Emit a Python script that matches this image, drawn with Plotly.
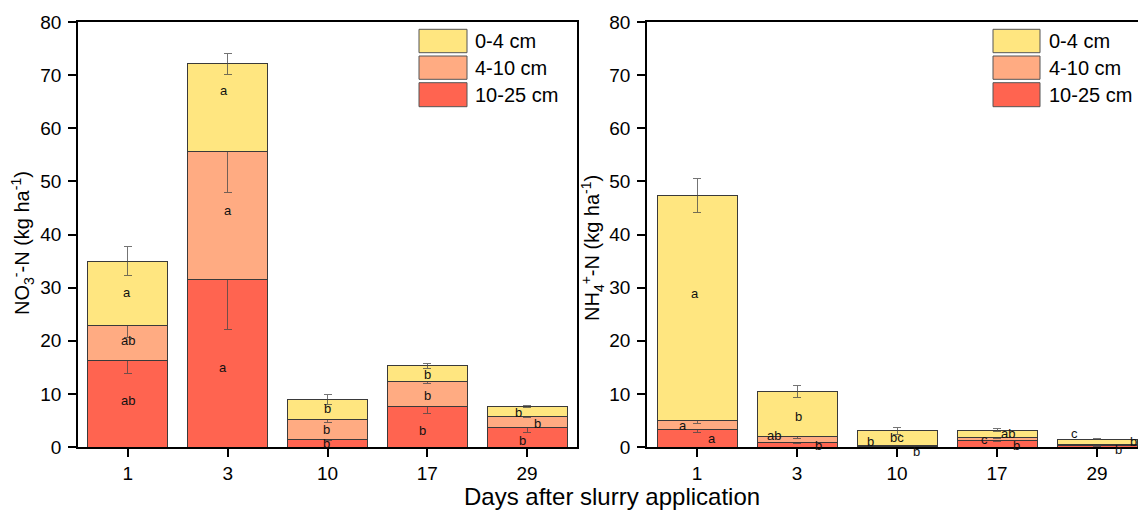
import plotly.graph_objects as go

days = ["1", "3", "10", "17", "29"]
layers = ["10-25 cm", "4-10 cm", "0-4 cm"]
colors = {"0-4 cm": "#FFE680", "4-10 cm": "#FFAB82", "10-25 cm": "#FF6450"}

# NO3--N (kg ha-1) per layer
no3_10_25 = [16.2, 31.5, 1.45, 7.6, 3.65]
no3_4_10 = [6.7, 24.1, 3.75, 4.7, 2.15]
no3_0_4 = [12.1, 16.5, 3.8, 3.0, 1.8]
no3_err_10_25 = [2.3, 9.3, 0.3, 1.25, 0.85]
no3_err_4_10 = [2.2, 7.6, 0.65, 0.4, 0.2]
no3_err_0_4 = [2.8, 1.9, 0.95, 0.5, 0.25]

# NH4+-N (kg ha-1) per layer
nh4_10_25 = [3.25, 0.94, 0.15, 1.3, 0.25]
nh4_4_10 = [1.8, 0.96, 0.15, 0.5, 0.2]
nh4_0_4 = [42.35, 8.6, 2.75, 1.4, 1.05]
nh4_err_10_25 = [0.47, 0.25, 0.05, 0.25, 0.1]
nh4_err_4_10 = [0.7, 0.3, 0.05, 0.2, 0.1]
nh4_err_0_4 = [3.2, 1.1, 0.7, 0.2, 0.1]

# significance letters (day, letter)
no3_letters_day = ["1", "1", "1", "3", "3", "3", "10", "10", "10", "17", "17", "17", "29", "29", "29"]
no3_letters = ["a", "ab", "ab", "a", "a", "a", "b", "b", "b", "b", "b", "b", "b", "b", "b"]
nh4_letters_day = ["1", "1", "1", "3", "3", "3", "10", "10", "10", "17", "17", "17", "29", "29", "29"]
nh4_letters = ["a", "a", "a", "b", "ab", "b", "b", "bc", "b", "c", "ab", "b", "c", "b", "b"]

# letter placement (y in data units, x shift in px) - styling
no3_lab_place = [(29.0, -1), (20.0, 0), (8.7, 0), (67.1, -4), (44.5, 0), (14.9, -5),
                 (7.3, 0), (3.3, -1), (0.6, -1), (13.7, 0), (9.7, 0), (3.1, -5),
                 (6.5, -9), (4.5, 10), (1.2, -5)]
nh4_lab_place = [(28.9, -2), (4.0, -14), (1.6, 15), (5.7, 1), (2.1, -23), (0.3, 21),
                 (1.1, -27), (1.75, 0), (-0.9, 19), (1.45, -13), (2.6, 11), (0.2, 19),
                 (2.6, -23), (1.1, 36), (-0.45, 21)]

FONT = "Arial, Liberation Sans, sans-serif"
ERRCOL = "rgba(70,70,70,0.75)"
PX_PER_UNIT = 425 / 80

fig = go.Figure()

def add_panel(vals, errs, xa, ya):
    for name, v, e in zip(layers, vals, errs):
        fig.add_trace(go.Bar(
            x=days, y=v, name=name, xaxis=xa, yaxis=ya, showlegend=False,
            marker=dict(color=colors[name], line=dict(color="#3a3a3a", width=1)),
            error_y=dict(type="data", array=e, color=ERRCOL, thickness=1, width=4),
        ))

add_panel([no3_10_25, no3_4_10, no3_0_4], [no3_err_10_25, no3_err_4_10, no3_err_0_4], "x", "y")
add_panel([nh4_10_25, nh4_4_10, nh4_0_4], [nh4_err_10_25, nh4_err_4_10, nh4_err_0_4], "x2", "y2")

annotations = []

def add_letters(days_l, letters, places, xr, yr):
    for d, t, (yy, dx) in zip(days_l, letters, places):
        ys = 0
        if yy < 0.3:
            ys = (yy - 0.3) * PX_PER_UNIT
            yy = 0.3
        annotations.append(dict(x=days.index(d), y=yy, xref=xr, yref=yr, text=t, showarrow=False,
                                xshift=dx, yshift=ys,
                                font=dict(family=FONT, size=13, color="#111")))

add_letters(no3_letters_day, no3_letters, no3_lab_place, "x", "y")
add_letters(nh4_letters_day, nh4_letters, nh4_lab_place, "x2", "y2")

# plot geometry helpers (pixels -> paper)
L, R, T, B = 78, 1138, 22, 447
W, H = R - L, B - T
px = lambda p: (p - L) / W
py = lambda p: (B - p) / H

# custom legends
legend_order = ["0-4 cm", "4-10 cm", "10-25 cm"]
rows = [(29.3, 52.7), (56.0, 79.3), (82.7, 106.7)]
shapes = []
for sx0, sx1, tx in [(419, 467, 473), (993, 1040, 1047)]:
    for name, (r0, r1) in zip(legend_order, rows):
        shapes.append(dict(type="rect", xref="paper", yref="paper",
                           x0=px(sx0), x1=px(sx1), y0=py(r1), y1=py(r0),
                           fillcolor=colors[name], line=dict(color="#555", width=1)))
        annotations.append(dict(xref="paper", yref="paper", x=px(tx), y=py((r0 + r1) / 2),
                                xanchor="left", yanchor="middle", text=name, showarrow=False,
                                font=dict(family=FONT, size=20, color="black")))

annotations.append(dict(xref="paper", yref="paper", x=px(612), y=py(496), text="Days after slurry application",
                        showarrow=False, xanchor="center", yanchor="middle",
                        font=dict(family=FONT, size=24, color="black")))
annotations.append(dict(xref="paper", yref="paper", x=px(22), y=py(243),
                        text="NO<sub>3</sub><sup>-</sup>-N (kg ha<sup>-1</sup>)", textangle=-90,
                        showarrow=False, xanchor="center", yanchor="middle",
                        font=dict(family=FONT, size=20, color="black")))
annotations.append(dict(xref="paper", yref="paper", x=px(592), y=py(248),
                        text="NH<sub>4</sub><sup>+</sup>-N (kg ha<sup>-1</sup>)", textangle=-90,
                        showarrow=False, xanchor="center", yanchor="middle",
                        font=dict(family=FONT, size=20, color="black")))

axis_common = dict(showline=True, linecolor="black", linewidth=1.5, ticks="outside",
                   ticklen=8, tickwidth=1.5, tickcolor="black", showgrid=False, zeroline=False,
                   tickfont=dict(family=FONT, size=19, color="black"))

fig.update_layout(
    width=1138, height=511,
    margin=dict(l=L, r=0, t=T, b=511 - B),
    paper_bgcolor="white", plot_bgcolor="white",
    barmode="stack", bargap=0.2,
    font=dict(family=FONT),
    xaxis=dict(domain=[0, px(577)], range=[-0.5, 4.5], type="category", mirror=True, **axis_common),
    yaxis=dict(range=[0, 80], dtick=10, mirror=True, ticklabelstandoff=3, **axis_common),
    xaxis2=dict(domain=[px(647), 1], range=[-0.5, 4.41], type="category", mirror=True,
                anchor="y2", **axis_common),
    yaxis2=dict(range=[0, 80], dtick=10, mirror=False, anchor="x2", ticklabelstandoff=3, **axis_common),
    annotations=annotations,
    shapes=shapes,
)

fig.write_html("out.html")
